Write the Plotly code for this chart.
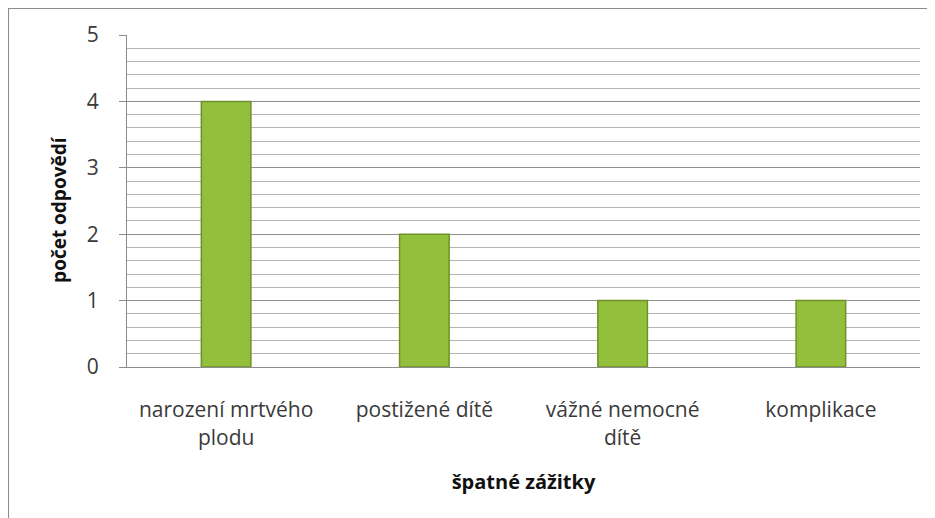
import plotly.graph_objects as go

# data
categories = ["narození mrtvého<br>plodu", "postižené dítě", "vážné nemocné<br>dítě", "komplikace"]
counts = [4, 2, 1, 1]
y_ticks = [0, 1, 2, 3, 4, 5]

FONT = "Open Sans, Noto Sans, sans-serif"

fig = go.Figure()

fig.add_trace(
    go.Bar(
        x=categories,
        y=counts,
        width=0.25,
        marker=dict(color="#92bf3c", line=dict(color="#6f9029", width=1.5)),
        showlegend=False,
    )
)

# outer chart frame (only top and left edges visible in the crop)
fig.add_shape(type="line", xref="paper", yref="paper", x0=-0.150, x1=1.03, y0=1.081, y1=1.081,
              line=dict(color="#8c8c8c", width=2))
fig.add_shape(type="line", xref="paper", yref="paper", x0=-0.150, x1=-0.150, y0=-0.6, y1=1.081,
              line=dict(color="#8c8c8c", width=2))

# y axis title placed by hand, closer to the tick labels than standoff allows
fig.add_annotation(
    text="<b>počet odpovědí</b>", xref="paper", yref="paper", x=-0.085, y=0.475,
    textangle=-90, showarrow=False, xanchor="center", yanchor="middle",
    font=dict(size=19, color="#111111"),
)

# page body adds an 8px offset, so margins are trimmed by that amount
fig.update_layout(
    width=935,
    height=518,
    margin=dict(l=119, r=23, t=27, b=159),
    paper_bgcolor="white",
    plot_bgcolor="white",
    font=dict(family=FONT, color="#222222"),
    bargap=0.75,
)

fig.update_xaxes(
    showline=True,
    linecolor="#8c8c8c",
    linewidth=1,
    tickfont=dict(size=21, color="#3a3a3a"),
    ticks="",
    ticklabelstandoff=24,
    title=dict(text="<b>špatné zážitky</b>", font=dict(size=20, color="#111111"), standoff=25),
)

fig.update_yaxes(
    range=[0, 5],
    tickvals=y_ticks,
    showline=True,
    linecolor="#8c8c8c",
    linewidth=1,
    ticks="outside",
    ticklen=7,
    tickcolor="#8c8c8c",
    tickfont=dict(size=21, color="#3a3a3a"),
    ticklabelstandoff=16,
    showgrid=True,
    gridcolor="#8f8f8f",
    gridwidth=1,
    minor=dict(dtick=0.2, showgrid=True, gridcolor="#b5b5b5", gridwidth=1),
    zeroline=False,
)

fig.write_html("out.html")
